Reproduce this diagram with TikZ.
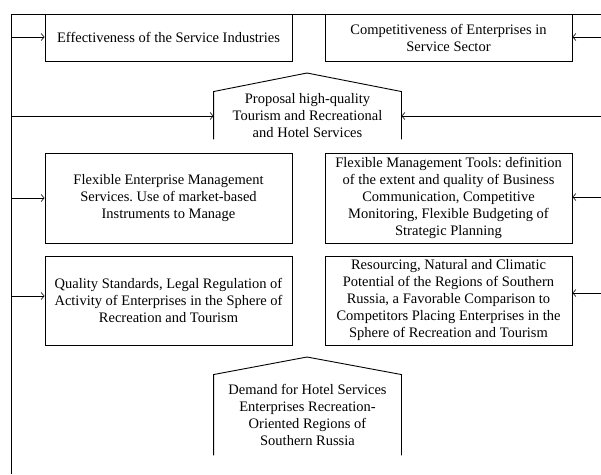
\documentclass[tikz,border=0pt]{standalone}
\usepackage{fontspec}
\setmainfont{Liberation Serif}
\frenchspacing
\usetikzlibrary{arrows.meta}
\begin{document}
\begin{tikzpicture}[x=1pt,y=-1pt,
  line width=0.9pt,
  txt/.style={font=\fontsize{14.5}{17}\selectfont, align=center, inner sep=0pt},
  box/.style={txt, draw, minimum width=247pt},
  conn/.style={-{Straight Barb[length=3pt,width=7pt,line width=0.6pt]}}]
\useasboundingbox (0,0) rectangle (601,474);
% frame
\coordinate (ftr) at (601,14);
\coordinate (ftl) at (11,14);
\coordinate (fbl) at (11,474);
\draw (ftr) -- (ftl) -- (fbl);
% boxes
\node[box, minimum height=47pt] (b1) at (168.5,37.5) {Effectiveness of the Service Industries};
\node[box, minimum height=47pt] (b2) at (448.5,37.5) {Competitiveness of Enterprises in\\Service Sector};
\node[box, minimum height=90pt] (b3) at (168.5,198) {Flexible Enterprise Management\\Services. Use of market-based\\Instruments to Manage};
\node[box, minimum height=90pt] (b4) at (448.5,198) {Flexible Management Tools: definition\\of the extent and quality of Business\\Communication, Competitive\\Monitoring, Flexible Budgeting of\\Strategic Planning};
\node[box, minimum height=89pt] (b5) at (168.5,300.5) {Quality Standards, Legal Regulation of\\Activity of Enterprises in the Sphere of\\Recreation and Tourism};
\node[box, minimum height=89pt] (b6) at (448.5,300.5) {Resourcing, Natural and Climatic\\Potential of the Regions of Southern\\Russia, a Favorable Comparison to\\Competitors Placing Enterprises in the\\Sphere of Recreation and Tourism};
% pentagons (open at bottom)
\node[txt, minimum width=187pt, minimum height=47pt] (p1) at (307.5,115.5) {Proposal high-quality\\Tourism and Recreational\\and Hotel Services};
\draw (p1.south west) -- (p1.north west) -- (307,73) -- (p1.north east) -- (p1.south east);
\node[txt, minimum width=187pt, minimum height=80pt] (p2) at (307.5,415) {Demand for Hotel Services\\Enterprises Recreation-\\Oriented Regions of\\Southern Russia};
\draw (p2.south west) -- (p2.north west) -- (307,357) -- (p2.north east) -- (p2.south east);
% left connectors
\coordinate (l1) at (11,37);
\coordinate (l2) at (11,116);
\coordinate (l3) at (11,198);
\coordinate (l4) at (11,296);
\draw[conn] (l1) -- (b1.west |- l1);
\draw[conn] (l2) -- (p1.west |- l2);
\draw[conn] (l3) -- (b3.west |- l3);
\draw[conn] (l4) -- (b5.west |- l4);
% right connectors
\coordinate (r1) at (601,37);
\coordinate (r2) at (601,116);
\coordinate (r3) at (601,197);
\coordinate (r4) at (601,293);
\draw[conn] (r1) -- (b2.east |- r1);
\draw[conn] (r2) -- (p1.east |- r2);
\draw[conn] (r3) -- (b4.east |- r3);
\draw[conn] (r4) -- (b6.east |- r4);
\end{tikzpicture}
\end{document}
